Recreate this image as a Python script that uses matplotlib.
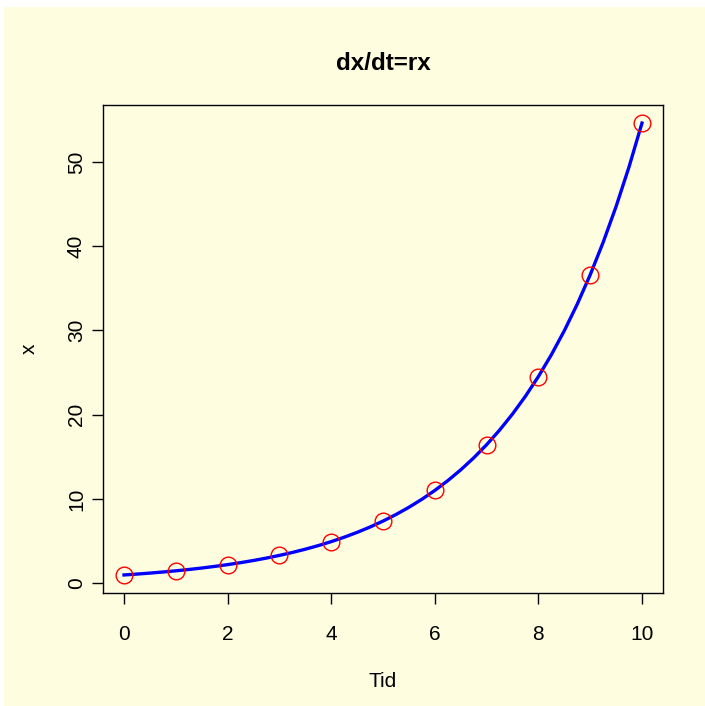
import matplotlib
matplotlib.use("Agg")
from matplotlib import pyplot as plt
from matplotlib.patches import Rectangle

plt.rcParams['font.family'] = ['Liberation Sans', 'DejaVu Sans']

# observed values at whole time steps
tid = [0, 1, 2, 3, 4, 5, 6, 7, 8, 9, 10]
x_obs = [1.00, 1.49, 2.23, 3.32, 4.95, 7.39, 11.02, 16.44, 24.53, 36.60, 54.60]

# solution curve sampled every quarter step
tid_curve = [0, 0.25, 0.5, 0.75, 1, 1.25, 1.5, 1.75, 2, 2.25, 2.5, 2.75,
             3, 3.25, 3.5, 3.75, 4, 4.25, 4.5, 4.75, 5, 5.25, 5.5, 5.75,
             6, 6.25, 6.5, 6.75, 7, 7.25, 7.5, 7.75, 8, 8.25, 8.5, 8.75,
             9, 9.25, 9.5, 9.75, 10]
x_curve = [1.000, 1.105, 1.221, 1.350, 1.492, 1.649, 1.822, 2.014, 2.226,
           2.460, 2.718, 3.004, 3.320, 3.669, 4.055, 4.482, 4.953, 5.474,
           6.050, 6.686, 7.389, 8.166, 9.025, 9.974, 11.023, 12.182, 13.464,
           14.880, 16.445, 18.174, 20.086, 22.198, 24.533, 27.113, 29.964,
           33.115, 36.598, 40.447, 44.701, 49.402, 54.598]

x_ticks = [0, 2, 4, 6, 8, 10]
y_ticks = [0, 10, 20, 30, 40, 50]

bg = '#fefde0'
fig = plt.figure(figsize=(7.05, 7.06), dpi=100, facecolor='white')
fig.patches.append(Rectangle((4 / 705, 0), 1, 1 - 7 / 706, transform=fig.transFigure,
                             facecolor=bg, edgecolor='none', zorder=-10))

ax = fig.add_axes([0.1465, 0.160, 0.7935, 0.6913])
ax.set_facecolor(bg)

ax.plot(tid_curve, x_curve, color='blue', lw=2.4, zorder=2)
ax.plot(tid, x_obs, 'o', ms=12, mfc='none', mec='red', mew=1.0, zorder=3)

xr = max(tid) - min(tid)
ax.set_xlim(min(tid) - 0.04 * xr, max(tid) + 0.04 * xr)
yr = max(x_obs) - min(x_obs)
ax.set_ylim(min(x_obs) - 0.04 * yr, max(x_obs) + 0.04 * yr)

ax.set_xticks(x_ticks)
ax.set_yticks(y_ticks)
ax.tick_params(axis='both', direction='out', length=8, width=1, labelsize=15)
ax.tick_params(axis='x', pad=15)
ax.tick_params(axis='y', pad=4.5)
for lab in ax.get_yticklabels():
    lab.set_rotation(90)
    lab.set_va('center')

for s in ax.spines.values():
    s.set_linewidth(1)

ax.set_title('dx/dt=rx', fontsize=17.5, fontweight='bold', pad=25.5)
ax.set_xlabel('Tid', fontsize=15, labelpad=20.5)
ax.set_ylabel('x', fontsize=15, labelpad=20)

fig.savefig('out.png', dpi=100, facecolor=fig.get_facecolor())
